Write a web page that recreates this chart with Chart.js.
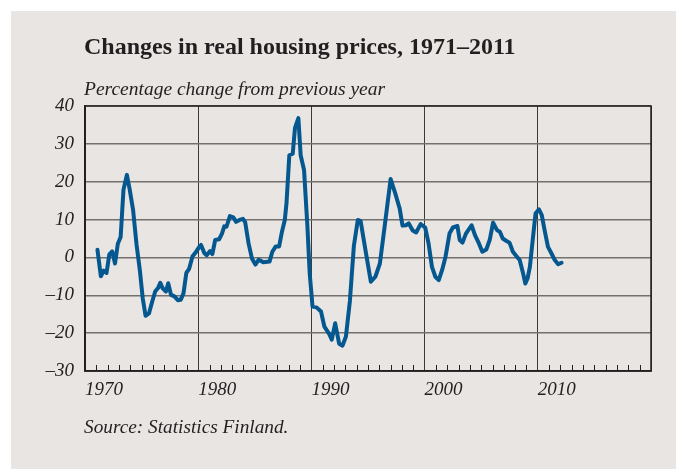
<!DOCTYPE html>
<html>
<head>
<meta charset="utf-8">
<script src="https://cdn.jsdelivr.net/npm/chart.js@4/dist/chart.umd.min.js"></script>
<style>
  html, body { margin: 0; padding: 0; background: #fff; }
  #wrap { position: relative; width: 676px; height: 469px; overflow: hidden; }
  #panel { position: absolute; left: 11px; top: 11px; right: 0; bottom: 0; background: #e8e5e2; }
  canvas { position: absolute; left: 0; top: 0; }
  .txt { position: absolute; left: 84px; color: #231f20; font-family: "Liberation Serif", serif; line-height: 1; white-space: nowrap; }
  #title { top: 34px; font-size: 24px; font-weight: bold; }
  #subtitle { top: 79px; font-size: 19.5px; font-style: italic; }
  #source { top: 417px; font-size: 19.3px; font-style: italic; }
</style>
</head>
<body>
<div id="wrap">
  <div id="panel"></div>
  <canvas id="chart" width="676" height="469"></canvas>
  <div class="txt" id="title">Changes in real housing prices, 1971–2011</div>
  <div class="txt" id="subtitle">Percentage change from previous year</div>
  <div class="txt" id="source">Source: Statistics Finland.</div>
</div>
<script>
const years = [
  1971.1, 1971.4, 1971.65, 1971.9, 1972.15, 1972.4, 1972.65, 1972.9, 1973.15, 1973.4,
  1973.7, 1973.95, 1974.25, 1974.55, 1974.85, 1975.1, 1975.35, 1975.65, 1975.95, 1976.2,
  1976.45, 1976.65, 1976.85, 1977.15, 1977.35, 1977.6, 1977.9, 1978.2, 1978.45, 1978.7,
  1978.95, 1979.2, 1979.5, 1979.8, 1980.05, 1980.25, 1980.55, 1980.75, 1981.05, 1981.25,
  1981.5, 1981.85, 1982.1, 1982.3, 1982.5, 1982.8, 1983.1, 1983.35, 1983.65, 1983.95,
  1984.15, 1984.45, 1984.75, 1985.05, 1985.35, 1985.75, 1986.3, 1986.55, 1986.85, 1987.15,
  1987.4, 1987.65, 1987.8, 1988.05, 1988.35, 1988.55, 1988.85, 1989.05, 1989.35, 1989.65,
  1989.85, 1990.1, 1990.45, 1990.85, 1991.15, 1991.55, 1991.8, 1992.1, 1992.45, 1992.75,
  1993.05, 1993.4, 1993.75, 1994.1, 1994.35, 1994.75, 1995.25, 1995.65, 1996.05, 1996.45,
  1997.0, 1997.45, 1997.8, 1998.05, 1998.35, 1998.6, 1998.95, 1999.25, 1999.65, 2000.05,
  2000.35, 2000.65, 2000.95, 2001.25, 2001.55, 2001.85, 2002.2, 2002.5, 2002.9, 2003.1,
  2003.35, 2003.65, 2004.15, 2004.45, 2004.8, 2005.1, 2005.45, 2005.75, 2006.05, 2006.4,
  2006.65, 2006.9, 2007.2, 2007.5, 2007.8, 2008.1, 2008.4, 2008.7, 2008.9, 2009.1,
  2009.3, 2009.55, 2009.8, 2010.1, 2010.35, 2010.6, 2010.9, 2011.2, 2011.5, 2011.8,
  2012.1
];
const changes = [
  2.0, -5.0, -3.5, -4.1, 0.8, 1.6, -1.6, 3.6, 5.4, 17.9,
  21.8, 17.9, 12.5, 3.5, -3.5, -10.8, -15.4, -14.8, -11.5, -9.0,
  -8.1, -6.7, -8.1, -9.0, -6.8, -9.9, -10.3, -11.3, -11.2, -9.5,
  -4.1, -3.0, 0.3, 1.4, 2.6, 3.3, 1.1, 0.6, 1.7, 0.9,
  4.6, 4.8, 6.3, 8.2, 8.1, 10.9, 10.6, 9.4, 9.9, 10.2,
  9.3, 3.7, -0.3, -1.9, -0.6, -1.3, -1.1, 1.5, 2.9, 2.9,
  6.8, 9.9, 14.3, 27.0, 27.4, 34.2, 36.8, 27.0, 23.1, 8.1,
  -4.2, -13.0, -13.2, -14.3, -18.3, -20.1, -21.7, -17.4, -22.8, -23.3,
  -20.9, -11.5, 3.0, 9.9, 9.6, 2.4, -6.4, -5.1, -1.6, 7.7,
  20.7, 16.5, 12.9, 8.4, 8.5, 9.0, 7.1, 6.6, 8.8, 7.9,
  3.7, -2.5, -5.1, -6.0, -3.3, 0.2, 6.3, 7.9, 8.3, 4.6,
  3.9, 6.3, 8.5, 5.9, 3.7, 1.5, 2.1, 4.6, 9.2, 7.2,
  6.8, 5.0, 4.4, 3.9, 1.5, 0.4, -0.7, -4.2, -6.9, -5.5,
  -2.5, 4.6, 11.6, 12.7, 11.2, 7.2, 2.8, 1.1, -0.7, -1.8,
  -1.4
];
const yearLabels = [1970, 1980, 1990, 2000, 2010];

const INK = "#231f20";
const labelFont = { family: "'Liberation Serif', serif", size: 19, style: "italic" };

const points = years.map((x, i) => ({ x, y: changes[i] }));

// frame around the plot and the small yearly ticks along the bottom
const frame = {
  id: "frame",
  afterDraw(chart) {
    const { ctx, chartArea: a, scales } = chart;
    ctx.save();
    ctx.strokeStyle = INK;
    ctx.lineWidth = 1;
    for (let yr = 1971; yr < 2020; yr++) {
      if (yr % 10 === 0) continue;
      const px = Math.round(scales.x.getPixelForValue(yr)) + 0.5;
      ctx.beginPath();
      ctx.moveTo(px, a.bottom);
      ctx.lineTo(px, a.bottom - 6);
      ctx.stroke();
    }
    ctx.lineWidth = 1.5;
    ctx.strokeRect(a.left, a.top, a.right - a.left, a.bottom - a.top);
    ctx.restore();
  },
};

new Chart(document.getElementById("chart"), {
  type: "line",
  data: {
    datasets: [
      {
        data: points,
        borderColor: "#05578f",
        borderWidth: 4,
        pointRadius: 0,
        tension: 0,
        borderJoinStyle: "round",
        borderCapStyle: "round",
      },
    ],
  },
  options: {
    responsive: false,
    animation: false,
    layout: { padding: { left: 0, top: 106, right: 25, bottom: 70 } },
    plugins: { legend: { display: false }, tooltip: { enabled: false } },
    scales: {
      x: {
        type: "linear",
        min: 1970,
        max: 2020,
        afterFit: (s) => { s.height = 28; },
        afterBuildTicks: (s) => { s.ticks = [1970, 1980, 1990, 2000, 2010, 2020].map((v) => ({ value: v })); },
        grid: { color: "#3c3a39", lineWidth: 1, drawTicks: false },
        border: { color: INK, width: 1.5 },
        ticks: {
          autoSkip: false,
          maxRotation: 0,
          align: "start",
          padding: 8,
          color: INK,
          font: labelFont,
          callback: (v) => (yearLabels.includes(v) ? String(v) : ""),
        },
      },
      y: {
        min: -30,
        max: 40,
        afterFit: (s) => { s.width = 85; },
        grid: { color: "#74706e", lineWidth: 1.5, drawTicks: false },
        border: { color: INK, width: 1.5 },
        ticks: {
          stepSize: 10,
          padding: 11,
          color: INK,
          font: labelFont,
          callback: (v) => (v < 0 ? "–" + Math.abs(v) : String(v)),
        },
      },
    },
  },
  plugins: [frame],
});
</script>
</body>
</html>
